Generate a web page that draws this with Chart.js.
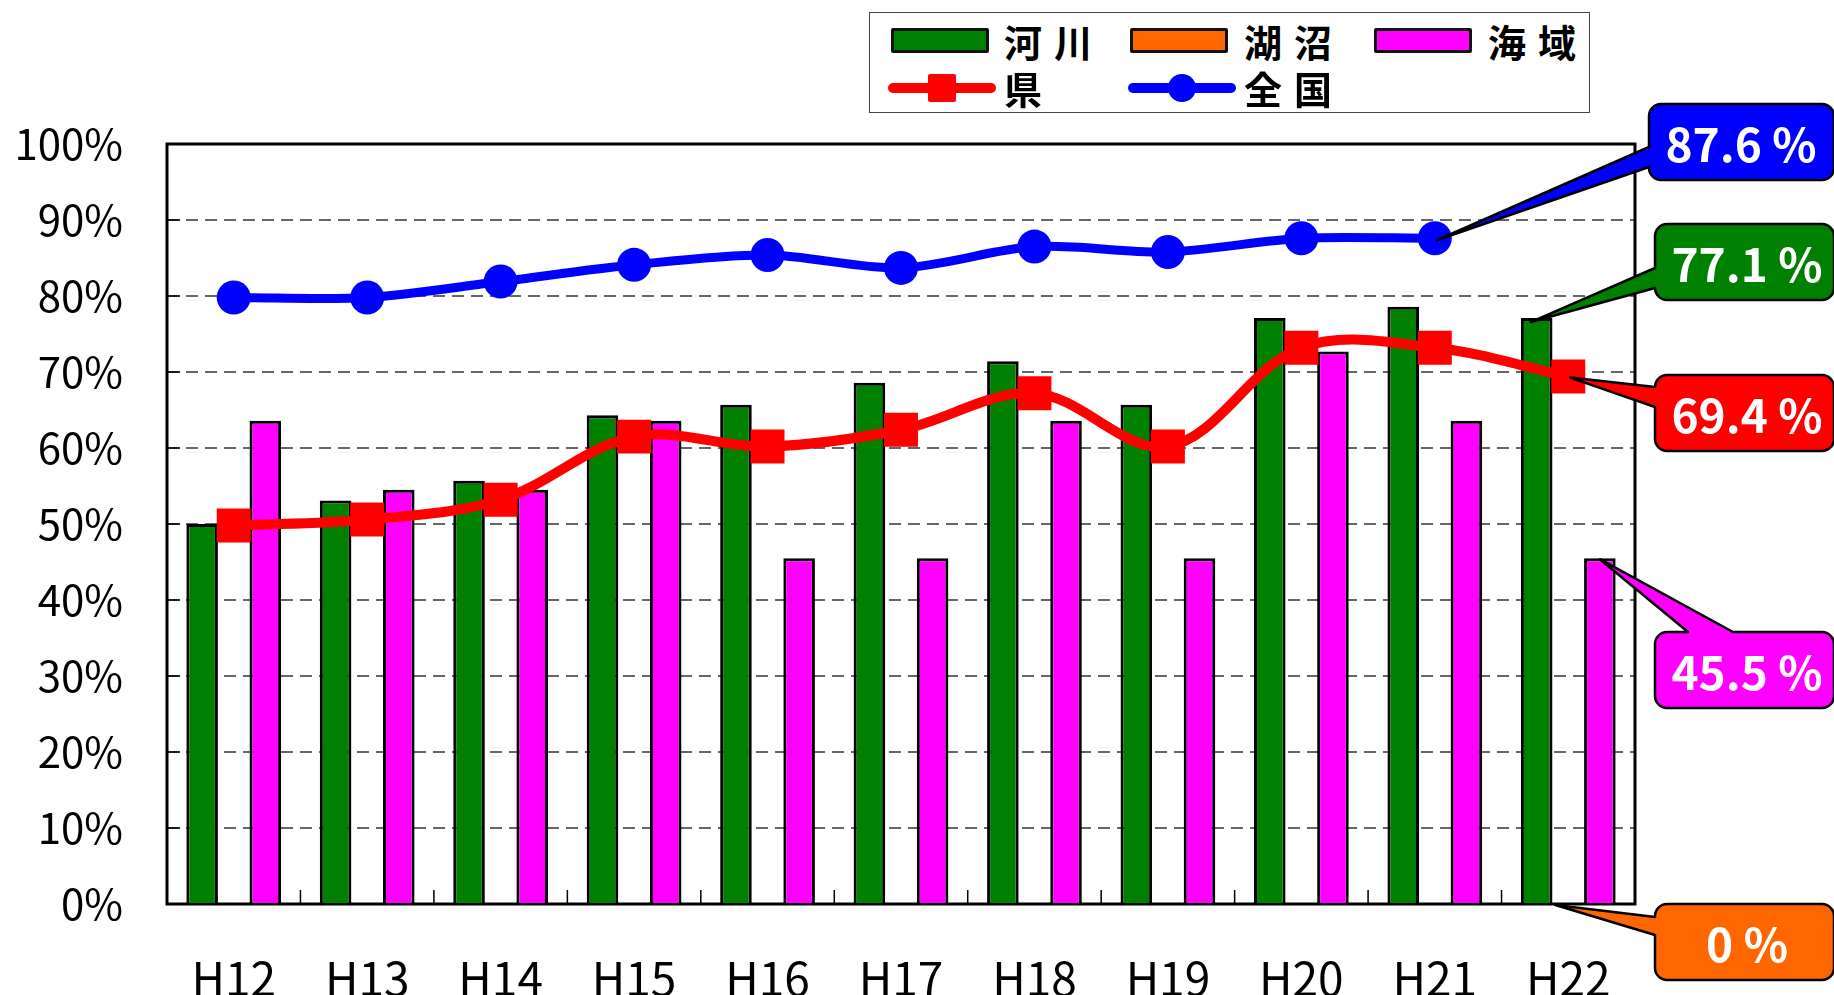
<!DOCTYPE html>
<html lang="ja">
<head>
<meta charset="utf-8">
<title>環境基準達成率の推移</title>
<script src="https://cdn.jsdelivr.net/npm/chart.js@4.4.1/dist/chart.umd.min.js"></script>
<style>
html, body { margin: 0; padding: 0; background: #fff; overflow: hidden; }
#wrap { position: relative; width: 1834px; height: 995px; }
#chart { position: absolute; left: 0; top: 0; }
#legend {
    position: absolute; left: 869px; top: 12px; width: 719px; height: 99px;
    border: 1.5px solid #444; background: #fff;
    font-family: 'Noto Sans CJK JP', sans-serif; font-weight: bold; font-size: 38px;
}
#legend .sw { position: absolute; box-sizing: border-box; }
#legend .txt { position: absolute; line-height: 38px; height: 38px; letter-spacing: 12px; color: #000; white-space: nowrap; }
</style>
</head>
<body>
<div id="wrap">
  <canvas id="chart" width="1834" height="995"></canvas>
  <div id="legend"></div>
</div>
<script>
// 年度
const categories = ['H12', 'H13', 'H14', 'H15', 'H16', 'H17', 'H18', 'H19', 'H20', 'H21', 'H22'];

// 達成率 (%)
const kasen   = [50.0, 53.1, 55.7, 64.3, 65.7, 68.6, 71.4, 65.7, 77.1, 78.6, 77.1];   // 河川
const koshou  = [0, 0, 0, 0, 0, 0, 0, 0, 0, 0, 0];                                     // 湖沼
const kaiiki  = [63.6, 54.5, 54.5, 63.6, 45.5, 45.5, 63.6, 45.5, 72.7, 63.6, 45.5];   // 海域
const ken     = [49.8, 50.6, 53.2, 61.5, 60.2, 62.4, 67.2, 60.2, 73.2, 73.2, 69.4];   // 県
const zenkoku = [79.8, 79.8, 81.9, 84.1, 85.4, 83.7, 86.5, 85.8, 87.6, 87.6, null];   // 全国

const yTicks = [0, 10, 20, 30, 40, 50, 60, 70, 80, 90, 100];

const FONT = "'Noto Sans CJK JP', 'Noto Sans', sans-serif";

// 吹き出し (右側のラベル)
const callouts = [
    { ds: 4, idx: 9,  box: [1649, 104, 185, 76], side: 'left', base: [147, 167], dx: 2, dy: 2 },
    { ds: 0, idx: 10, box: [1655, 224, 179, 76], side: 'left', base: [268, 288], dx: -6, dy: 4 },
    { ds: 3, idx: 10, box: [1655, 375, 179, 76], side: 'left', base: [387, 407], dx: 2, dy: 1 },
    { ds: 2, idx: 10, box: [1655, 632, 179, 76], side: 'top',  base: [1688, 1733], dx: 0, dy: 1 },
    { ds: 1, idx: 10, box: [1655, 904, 179, 76], side: 'left', base: [917, 935], dx: -13, dy: 1 }
];

function balloonPath(ctx, x, y, w, h, r, side, b1, b2, tx, ty) {
    ctx.beginPath();
    ctx.moveTo(x + r, y);
    if (side === 'top') { ctx.lineTo(b1, y); ctx.lineTo(tx, ty); ctx.lineTo(b2, y); }
    ctx.lineTo(x + w - r, y);
    ctx.arcTo(x + w, y, x + w, y + r, r);
    ctx.lineTo(x + w, y + h - r);
    ctx.arcTo(x + w, y + h, x + w - r, y + h, r);
    ctx.lineTo(x + r, y + h);
    ctx.arcTo(x, y + h, x, y + h - r, r);
    if (side === 'left') { ctx.lineTo(x, b2); ctx.lineTo(tx, ty); ctx.lineTo(x, b1); }
    ctx.lineTo(x, y + r);
    ctx.arcTo(x, y, x + r, y, r);
    ctx.closePath();
}

// 枠と内向きの目盛り
const framePlugin = {
    id: 'frame',
    beforeDatasetsDraw(chart) {
        const { ctx, chartArea: a, scales } = chart;
        ctx.save();
        ctx.strokeStyle = '#000';
        ctx.lineWidth = 1.5;
        ctx.beginPath();
        yTicks.slice(1, -1).forEach(v => {
            const y = scales.y.getPixelForValue(v);
            ctx.moveTo(a.left, y);
            ctx.lineTo(a.left + 13, y);
        });
        for (let i = 0; i < categories.length - 1; i++) {
            const x = (scales.x.getPixelForValue(i) + scales.x.getPixelForValue(i + 1)) / 2;
            ctx.moveTo(x, a.bottom);
            ctx.lineTo(x, a.bottom - 14);
        }
        ctx.stroke();
        ctx.lineWidth = 3;
        ctx.strokeRect(a.left, a.top, a.right - a.left, a.bottom - a.top);
        ctx.restore();
    }
};

const calloutPlugin = {
    id: 'callouts',
    afterDatasetsDraw(chart) {
        const ctx = chart.ctx;
        ctx.save();
        callouts.forEach(c => {
            const ds = chart.data.datasets[c.ds];
            const el = chart.getDatasetMeta(c.ds).data[c.idx];
            const v = ds.data[c.idx];
            const [x, y, w, h] = c.box;
            balloonPath(ctx, x, y, w, h, 12, c.side, c.base[0], c.base[1], el.x + c.dx, el.y + c.dy);
            ctx.fillStyle = ds.legendColor;
            ctx.fill();
            ctx.lineWidth = 2.5;
            ctx.strokeStyle = '#000';
            ctx.lineJoin = 'round';
            ctx.stroke();
            ctx.fillStyle = '#fff';
            ctx.font = 'bold 46px ' + FONT;
            ctx.textAlign = 'center';
            ctx.textBaseline = 'middle';
            const label = (v === 0 ? '0' : v.toFixed(1)) + ' %';
            ctx.fillText(label, x + 92, y + h / 2 + 3);
        });
        ctx.restore();
    }
};

function plotarGrafico() {
    const ctx = document.getElementById('chart').getContext('2d');
    const chart = new Chart(ctx, {
        type: 'bar',
        data: {
            labels: categories,
            datasets: [
                { label: '河川', data: kasen, backgroundColor: '#008000', legendColor: '#008000',
                  borderColor: '#000', borderWidth: 3, borderSkipped: 'bottom', order: 2 },
                { label: '湖沼', data: koshou, backgroundColor: '#FF6600', legendColor: '#FF6600',
                  borderColor: '#000', borderWidth: 0, order: 2 },
                { label: '海域', data: kaiiki, backgroundColor: '#FF00FF', legendColor: '#FF00FF',
                  borderColor: '#000', borderWidth: 3, borderSkipped: 'bottom', order: 2 },
                { type: 'line', label: '県', data: ken, legendColor: '#FF0000',
                  borderColor: '#FF0000', backgroundColor: '#FF0000', borderWidth: 10,
                  tension: 0.35, pointStyle: 'rect', pointRadius: 24, pointBorderWidth: 0,
                  order: 1 },
                { type: 'line', label: '全国', data: zenkoku, legendColor: '#0000FF',
                  borderColor: '#0000FF', backgroundColor: '#0000FF', borderWidth: 9,
                  tension: 0.3, pointStyle: 'circle', pointRadius: 17, pointBorderWidth: 0,
                  order: 1 }
            ]
        },
        options: {
            responsive: false,
            animation: false,
            layout: { padding: { left: 0, right: 199, top: 144, bottom: 0 } },
            datasets: {
                bar: { categoryPercentage: 0.71, barPercentage: 1.0 }
            },
            plugins: {
                legend: { display: false },
                tooltip: { enabled: false }
            },
            scales: {
                x: {
                    grid: { display: false, drawTicks: false },
                    border: { display: false },
                    ticks: { color: '#000', padding: 47, font: { family: FONT, size: 46 } },
                    afterFit(s) { s.height = 91; }
                },
                y: {
                    min: 0, max: 100,
                    afterBuildTicks(s) { s.ticks = yTicks.map(v => ({ value: v })); },
                    ticks: { color: '#000', padding: 44, callback: v => v + '%',
                             font: { family: FONT, size: 42 } },
                    grid: {
                        drawTicks: false, lineWidth: 2,
                        color: c => (c.tick.value === 0 || c.tick.value === 100) ? 'rgba(0,0,0,0)' : '#666'
                    },
                    border: { display: false, dash: [12, 7] },
                    afterFit(s) { s.width = 167; }
                }
            }
        },
        plugins: [framePlugin, calloutPlugin]
    });

    // 凡例 (3列×2行)
    const legend = document.getElementById('legend');
    const slots = [
        { ds: 0, sw: 21,  txt: 134, row: 0 },
        { ds: 1, sw: 260, txt: 374, row: 0 },
        { ds: 2, sw: 504, txt: 618, row: 0 },
        { ds: 3, sw: 18,  txt: 134, row: 1 },
        { ds: 4, sw: 258, txt: 374, row: 1 }
    ];
    const rowY = [27.5, 75];
    slots.forEach(s => {
        const ds = chart.data.datasets[s.ds];
        const cy = rowY[s.row];
        if (ds.type === 'line') {
            const line = document.createElement('div');
            line.className = 'sw';
            line.style.cssText = `left:${s.sw}px;top:${cy - 5}px;width:108px;height:10px;border-radius:5px;background:${ds.legendColor};`;
            legend.appendChild(line);
            const mk = document.createElement('div');
            mk.className = 'sw';
            const round = ds.pointStyle === 'circle' ? 'border-radius:50%;' : 'border-radius:2px;';
            mk.style.cssText = `left:${s.sw + 54 - 14}px;top:${cy - 14}px;width:28px;height:28px;${round}background:${ds.legendColor};`;
            legend.appendChild(mk);
        } else {
            const box = document.createElement('div');
            box.className = 'sw';
            box.style.cssText = `left:${s.sw}px;top:${cy - 12.5}px;width:98px;height:25px;border:3px solid #111;border-radius:2px;background:${ds.legendColor};`;
            legend.appendChild(box);
        }
        const t = document.createElement('div');
        t.className = 'txt';
        t.textContent = ds.label;
        t.style.left = s.txt + 'px';
        t.style.top = (cy - 19) + 'px';
        legend.appendChild(t);
    });
}

window.onload = function () {
    plotarGrafico();
};
</script>
</body>
</html>
